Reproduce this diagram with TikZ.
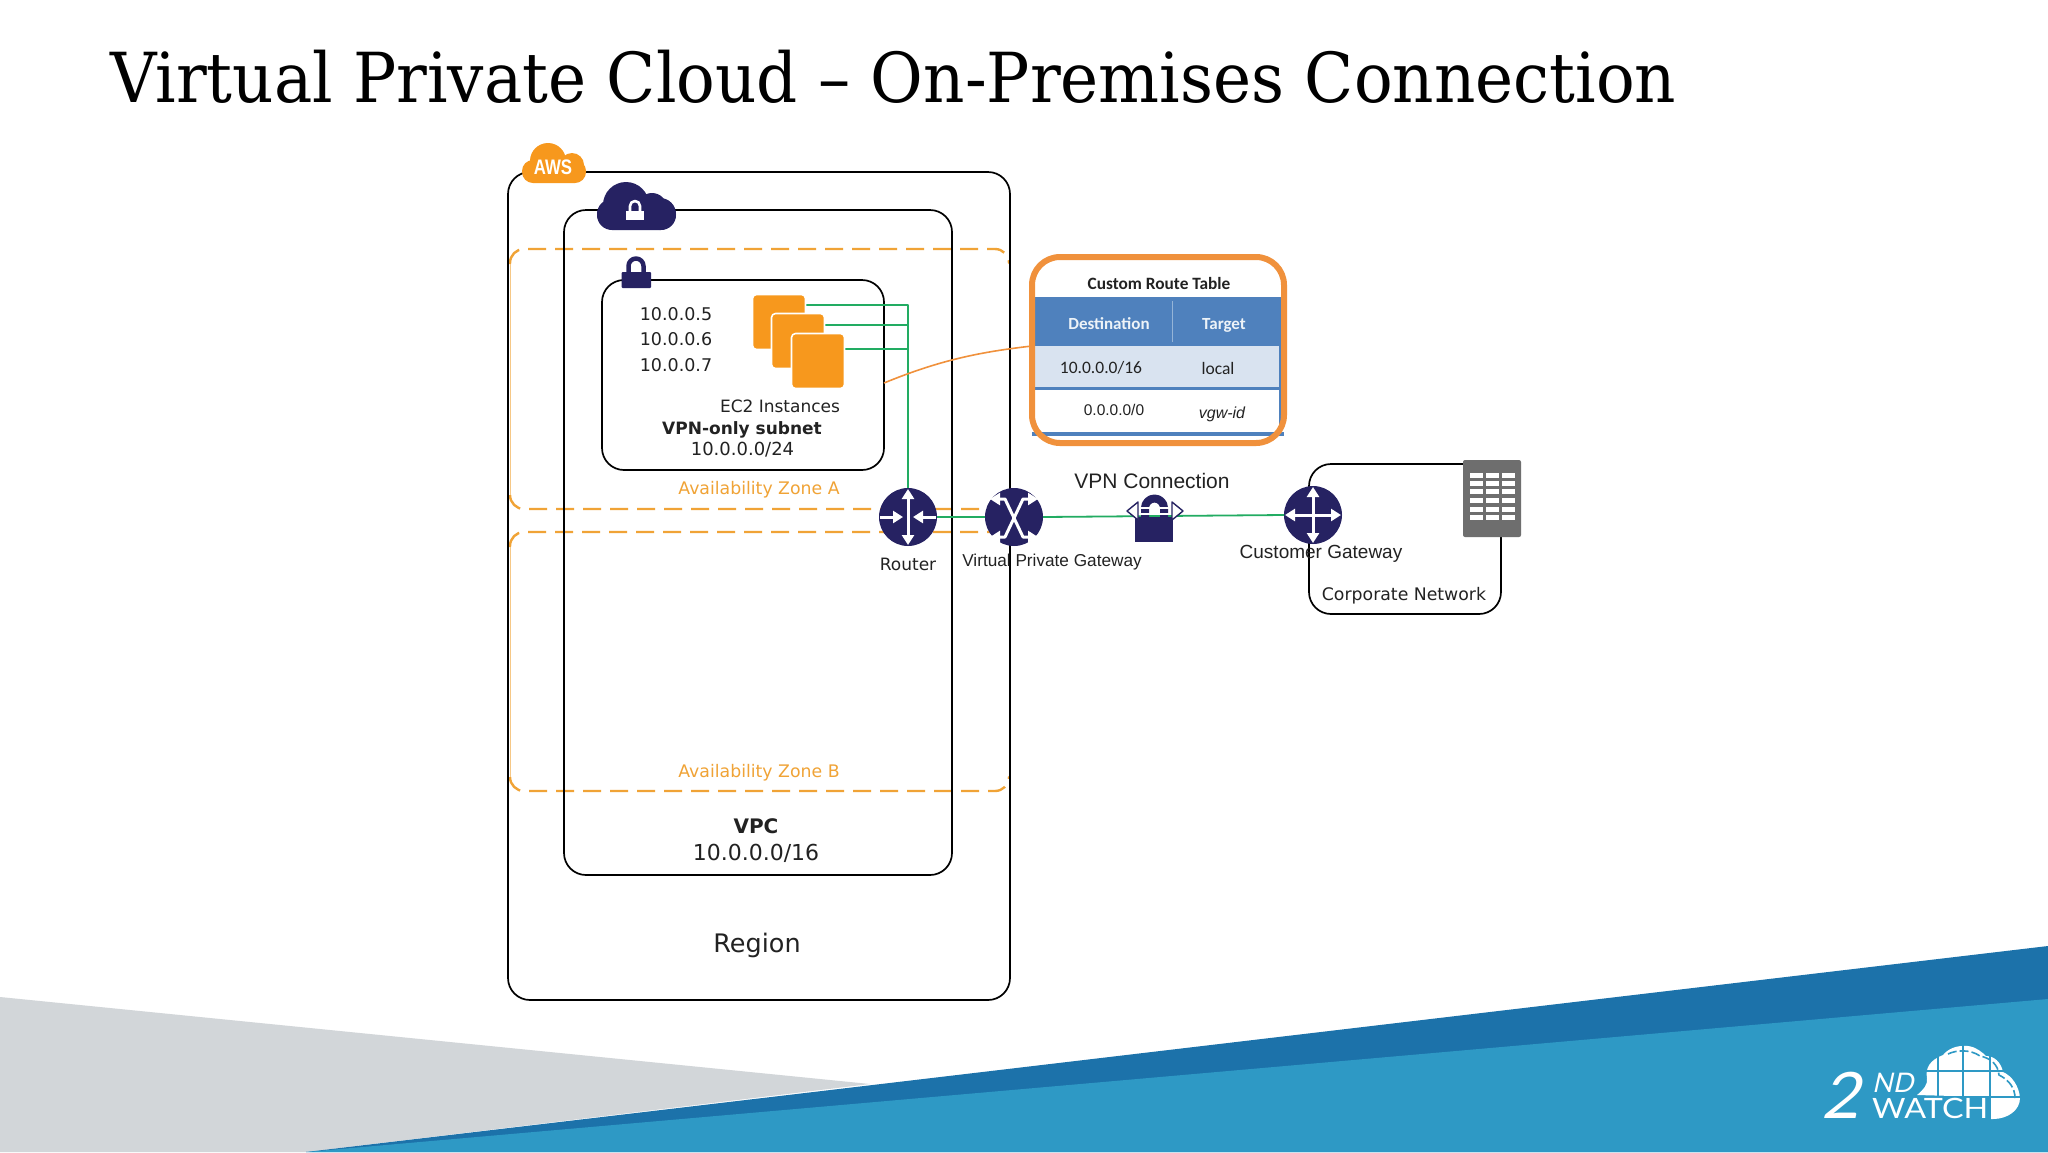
\documentclass[tikz,border=0pt]{standalone}
\usepackage{fontspec}
\usepackage{graphicx}
\usetikzlibrary{arrows.meta}
\setmainfont{DejaVu Sans}
\newfontfamily\fverd{DejaVu Sans}
\newfontfamily\farial{Liberation Sans}
\newfontfamily\fcarl{Carlito}
\newfontfamily\fslab{DejaVu Serif}
\newfontfamily\flogo{Lato}[FakeSlant=0.22]
\newfontfamily\flogoup{Lato}
\newcommand{\szf}[1]{\fontsize{#1}{#1}\selectfont}
\definecolor{navy}{HTML}{262262}
\definecolor{awsor}{HTML}{F7981D}
\definecolor{zoneor}{HTML}{F0A336}
\definecolor{rtor}{HTML}{F0913C}
\definecolor{linkgr}{HTML}{22AC62}
\definecolor{thead}{HTML}{4F81BD}
\definecolor{trow}{HTML}{D9E3F0}
\definecolor{bggray}{HTML}{D2D6D9}
\definecolor{bgdark}{HTML}{1C72AA}
\definecolor{bglight}{HTML}{2E99C5}
\definecolor{txtc}{HTML}{222222}
\definecolor{bldg}{HTML}{6E6E6E}
\tikzset{
  box/.style={draw=black,line width=1.7pt,rounded corners=22pt,inner sep=0pt,outer sep=0pt},
  zone/.style={draw=zoneor,line width=2.4pt,dash pattern=on 18pt off 9pt,rounded corners=14pt},
  zoneedge/.style={draw=zoneor!60,line width=1pt},
  link/.style={draw=linkgr,line width=1.8pt},
  hub/.style={circle,fill=navy,minimum size=58pt,inner sep=0pt,outer sep=0pt},
  ec2/.style={fill=awsor,draw=white,line width=1.6pt,rounded corners=4pt,inner sep=0pt,outer sep=0pt,minimum width=53pt,minimum height=55pt},
  v/.style={inner sep=0pt,text=txtc,font=\fverd\szf{#1}},
  a/.style={inner sep=0pt,text=txtc,font=\farial\szf{#1}},
  c/.style={inner sep=0pt,text=txtc,font=\fcarl\szf{#1}},
  whitearrow/.style={draw=white,line width=3pt,-{Triangle[width=12pt,length=10pt]}},
  whitearrows/.style={draw=white,line width=3pt,{Triangle[width=12pt,length=10pt]}-{Triangle[width=12pt,length=10pt]}},
  pics/routerin/.style={code={
    \draw[whitearrows] (0,-28) -- (0,28);
    \draw[whitearrow] (-28,0) -- (-5,0);
    \draw[whitearrow] (28,0) -- (5,0);
  }},
  pics/crossx/.style={code={
    \draw[whitearrows] (-24,-18) -- (-9,-18) -- (9,20) -- (24,20);
    \draw[whitearrows] (24,-18) -- (9,-18) -- (-9,20) -- (-24,20);
  }},
  pics/crossout/.style={code={
    \draw[whitearrows] (0,-28) -- (0,28);
    \draw[whitearrows] (-28,0) -- (28,0);
  }},
}
\begin{document}
\begin{tikzpicture}[x=1pt,y=-1pt,line cap=butt,line join=round]
\useasboundingbox (0,0) rectangle (2048,1152);
% slide background
\fill[white] (0,0) rectangle (2048,1152);
\fill[bggray] (0,997) -- (870,1084) -- (306,1152) -- (0,1152) -- cycle;
\fill[bgdark] (306,1152) -- (2048,946) -- (2048,1152) -- cycle;
\fill[bglight] (306,1152) -- (2048,999) -- (2048,1152) -- cycle;
\node[anchor=base west,inner sep=0pt,font=\fslab\szf{69},text=black] (title) at (110,102)
  {\resizebox{1566pt}{\height}{Virtual Private Cloud – On-Premises Connection}};

% zones
\draw[zone] (510,264) |- (1009,249) -- (1009,262);
\draw[zone] (510,495) |- (1000,509);
\draw[zone] (510,547) |- (1000,532);
\draw[zone] (510,777) |- (1009,791) -- (1009,778);
\draw[zoneedge] (510,264) -- (510,495);
\draw[zoneedge] (510,547) -- (510,777);

% containers
\node[box,minimum width=502pt,minimum height=828pt] (region) at (759,586) {};
\node[box,minimum width=388pt,minimum height=665pt] (vpc) at (758,542.5) {};
\node[box,minimum width=282pt,minimum height=190pt] (subnet) at (743,375) {};
\node[box,minimum width=192pt,minimum height=150pt] (corp) at (1405,539) {};

% AWS cloud
\fill[awsor,rounded corners=11pt] (522,160) rectangle (586,183);
\fill[awsor] (548,161) circle (18pt) (572,165) circle (12pt);
\node[inner sep=0pt,text=white,font=\farial\bfseries\szf{21}] (aws) at (553,167) {\scalebox{0.8}[1]{AWS}};

% VPC cloud with lock
\fill[navy,rounded corners=15pt] (597,200) rectangle (676,230);
\fill[navy] (626,205) circle (23pt) (652,208) circle (15pt) (612,214) circle (15pt) (660,214) circle (16pt);
\fill[white] (626,211) rectangle (644,220);
\draw[white,line width=2.6pt] (630,212) -- (630,206) arc[start angle=180,end angle=0,radius=5pt] -- (640,212);

% subnet lock
\fill[navy,rounded corners=1pt] (621.5,272) rectangle (651,288);
\draw[navy,line width=4.5pt] (628.5,273) -- (628.5,266) arc[start angle=180,end angle=0,radius=7.5pt] -- (643.5,273);

% EC2 stack
\coordinate (ea) at (805,305);
\coordinate (eb) at (824,325);
\coordinate (ec) at (844,349);
\node[hub] (router) at (908,517) {};
\node[hub] (vgw) at (1014,517) {};
\node[hub] (cg) at (1313,515) {};
\draw[link] (ea) -| (router.north);
\draw[link] (eb) -| (router.north);
\draw[link] (ec) -| (router.north);
\draw[link] (router.east) -- (vgw.west);
\draw[link] (vgw.east) -- (cg.west);
\node[ec2,fill=awsor] (ec2a) at (779,322) {};
\node[ec2] (ec2b) at (798,341) {};
\node[ec2] (ec2c) at (818,361) {};
\pic at (router) {routerin};
\pic at (vgw) {crossx};
\pic at (cg) {crossout};

% VPN lock
\draw[navy,line width=8pt] (1145,519) -- (1145,508) arc[start angle=180,end angle=0,radius=9.5pt] -- (1164,519);
\fill[navy] (1135,517) rectangle (1173,542);
\draw[white,line width=2pt] (1137,508) -- (1171,508) (1137,514) -- (1171,514);
\draw[navy,fill=white,line width=1.4pt] (1127,511) -- (1138,502) -- (1138,520) -- cycle;
\draw[navy,fill=white,line width=1.4pt] (1183,511) -- (1172,502) -- (1172,520) -- cycle;

% route table
\fill[thead] (1034,297) rectangle (1282,346);
\fill[trow] (1034,346) rectangle (1279,387);
\fill[thead] (1034,387) rectangle (1282,390);
\fill[thead] (1279,346) rectangle (1282,432);
\fill[thead] (1032,432) rectangle (1284,436);
\draw[thead!60!white,line width=1pt] (1172,301) -- (1172,342);
\node[draw=rtor,line width=6pt,rounded corners=28pt,minimum width=252pt,minimum height=186pt,inner sep=0pt,outer sep=0pt] (rtable) at (1158,350) {};
\draw[rtor,line width=1.6pt] ([yshift=-8pt]subnet.east) .. controls (940,360) and (980,352) .. ([yshift=4pt]rtable.west);

% corporate building
\fill[bldg,rounded corners=2pt] (1463,460) rectangle (1521,537);
\foreach \yy in {473,481,489,498,507,515} \foreach \xx in {1470,1486,1502} \fill[white] (\xx,\yy) rectangle +(12.5,4.5);

% labels
\node[v=17.5] (ipa) at (676,314) {10.0.0.5};
\node[v=17.5] (ipb) at (676,339) {10.0.0.6};
\node[v=17.5] (ipc) at (676,365) {10.0.0.7};
\node[v=17] (ec2lab) at (780,406) {EC2 Instances};
\node[v=16.6,font=\fverd\bfseries\szf{17}] (vpnonly) at (742,430) {VPN-only subnet};
\node[v=18] (subcidr) at (742.5,450) {10.0.0.0/24};
\node[v=17.3,text=zoneor] (aza) at (759,490) {Availability Zone A};
\node[v=17.3,text=zoneor] (azb) at (759,773) {Availability Zone B};
\node[v=20,font=\fverd\bfseries\szf{20}] (vpclab) at (756,826) {VPC};
\node[v=22] (vpccidr) at (756,853) {10.0.0.0/16};
\node[v=25.5] (reglab) at (757,945) {Region};
\node[v=17] (rtlab) at (908,564) {Router};
\node[a=17.2] (vgwlab) at (1052,562) {Virtual Private Gateway};
\node[a=21] (vpnlab) at (1152,481) {VPN Connection};
\node[a=19] (cglab) at (1321,554) {Customer Gateway};
\node[v=17.3] (corplab) at (1404,596) {Corporate Network};
\node[c=17.3,font=\fcarl\bfseries\szf{17.3}] (rttitle) at (1159,283) {Custom Route Table};
\node[c=17,text=white!90!thead,font=\fcarl\bfseries\szf{17}] (thd) at (1109,324) {Destination};
\node[c=17,text=white!90!thead,font=\fcarl\bfseries\szf{17}] (tht) at (1224,325) {Target};
\node[c=17.5] (tda) at (1101,368) {10.0.0.0/16};
\node[c=17.5] (tta) at (1218,368) {local};
\node[a=15.5] (tdb) at (1114,410) {0.0.0.0/0};
\node[a=16,font=\farial\itshape\szf{16}] (ttb) at (1222,414) {vgw-id};

% logo
\fill[white] (1917,1095) .. controls (1923,1090) and (1928,1085) .. (1927,1078)
  .. controls (1925,1068) and (1930,1060) .. (1943,1055)
  .. controls (1948,1049) and (1956,1045) .. (1968,1046)
  .. controls (1976,1047) and (1982,1052) .. (1986,1056)
  .. controls (1994,1056) and (2001,1062) .. (2003,1072)
  .. controls (2012,1076) and (2019,1086) .. (2020,1098)
  .. controls (2020,1110) and (2008,1119) .. (1993,1119)
  -- (1990,1119) -- (1990,1097) -- cycle;
\draw[bglight,line width=2.5pt] (1938,1045) -- (1938,1097) (1963,1040) -- (1963,1097) (1990,1045) -- (1990,1121)
  (1920,1071) -- (2010,1071) (1915,1097) -- (2025,1097);
\draw[bglight,line width=1.6pt,dash pattern=on 9pt off 3pt] (1948,1054) .. controls (1956,1050) and (1970,1049) .. (1980,1056)
  .. controls (1990,1058) and (1998,1064) .. (1999,1075) .. controls (2009,1080) and (2015,1088) .. (2015,1098);
\node[anchor=base west,inner sep=0pt,text=white,font=\flogo\szf{64}] (logotwo) at (1821,1118) {\resizebox{38pt}{\height}{2}};
\node[anchor=base west,inner sep=0pt,text=white,font=\flogo\szf{27}] (logond) at (1872,1092) {ND};
\node[anchor=base west,inner sep=0pt,text=white,font=\flogoup\szf{28}] (logowatch) at (1872,1118) {\resizebox{116pt}{\height}{WATCH}};
\end{tikzpicture}
\end{document}
